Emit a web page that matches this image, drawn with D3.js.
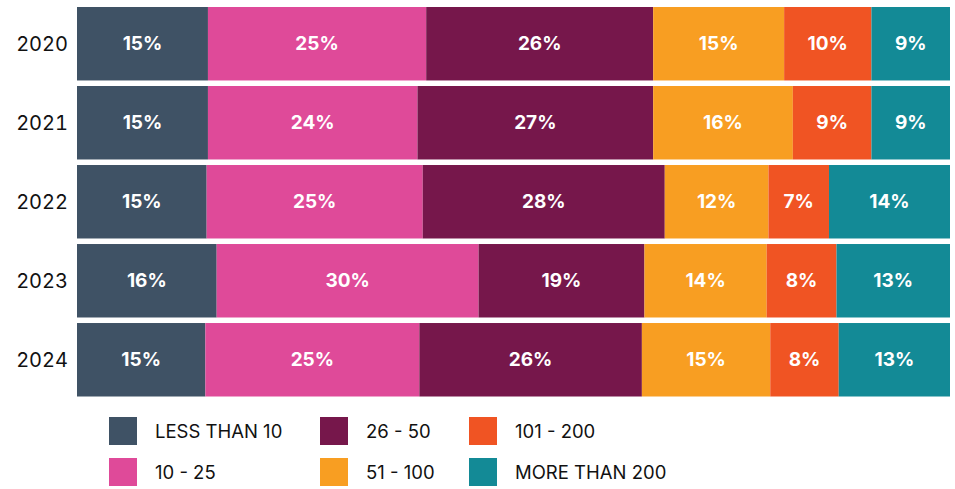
<!DOCTYPE html>
<html>
<head>
<meta charset="utf-8">
<script src="https://cdn.jsdelivr.net/npm/d3@7"></script>
<style>
  html, body { margin: 0; padding: 0; background: #ffffff; }
  svg { display: block; font-family: Inter, "Noto Sans", sans-serif; }
  .year-axis text { font-variant-numeric: tabular-nums; font-feature-settings: "tnum"; }
</style>
</head>
<body>
<svg id="chart" width="955" height="489"></svg>
<script>
// Share of organisations by size band, per year (percent)
const years = ["2020", "2021", "2022", "2023", "2024"];
const bands = ["LESS THAN 10", "10 - 25", "26 - 50", "51 - 100", "101 - 200", "MORE THAN 200"];
const lessThan10 = [15, 15, 15, 16, 15];
const from10to25 = [25, 24, 25, 30, 25];
const from26to50 = [26, 27, 28, 19, 26];
const from51to100 = [15, 16, 12, 14, 15];
const from101to200 = [10, 9, 7, 8, 8];
const moreThan200 = [9, 9, 14, 13, 13];
const bandColors = ["#3f5265", "#df4a99", "#76174b", "#f89e22", "#f05423", "#138a96"];

const seriesValues = [lessThan10, from10to25, from26to50, from51to100, from101to200, moreThan200];

const rows = years.map((y, i) => {
  const row = { year: y };
  bands.forEach((b, j) => { row[b] = seriesValues[j][i]; });
  return row;
});

// Each bar fills the full width: normalise by the row total
const stacked = d3.stack()
  .keys(bands)
  .offset(d3.stackOffsetExpand)(rows);

const svg = d3.select("#chart");

const x = d3.scaleLinear().domain([0, 1]).range([77, 950]);
const y = d3.scaleBand().domain(years).range([7, 396.5]).paddingInner(0.07).paddingOuter(0);
const color = d3.scaleOrdinal().domain(bands).range(bandColors);

const layers = svg.append("g").selectAll("g")
  .data(stacked)
  .join("g")
  .attr("fill", d => color(d.key));

layers.selectAll("rect")
  .data(d => d)
  .join("rect")
  .attr("x", d => x(d[0]))
  .attr("y", d => y(d.data.year))
  .attr("width", d => x(d[1]) - x(d[0]))
  .attr("height", y.bandwidth());

// Percentage labels in the middle of each segment
const labels = svg.append("g").selectAll("g")
  .data(stacked)
  .join("g");

labels.selectAll("text")
  .data(d => d.map(s => ({ s, key: d.key })))
  .join("text")
  .attr("x", d => (x(d.s[0]) + x(d.s[1])) / 2)
  .attr("y", d => y(d.s.data.year) + y.bandwidth() / 2)
  .attr("text-anchor", "middle")
  .attr("dominant-baseline", "central")
  .attr("fill", "#ffffff")
  .attr("font-size", 19)
  .attr("font-weight", 700)
  .text(d => d.s.data[d.key] + "%");

// Year axis on the left
const yAxis = svg.append("g")
  .attr("class", "year-axis")
  .attr("transform", "translate(68,0)")
  .call(d3.axisLeft(y).tickSize(0).tickPadding(0));
yAxis.select(".domain").remove();
yAxis.selectAll("text")
  .attr("font-family", "Inter, 'Noto Sans', sans-serif")
  .attr("font-size", 20)
  .attr("fill", "#111111")
  .attr("dy", "0.35em");

// Legend: three columns, two rows
const legendX = [109, 320, 469];
const legendY = [417, 458];
const legend = svg.append("g").selectAll("g")
  .data(bands)
  .join("g")
  .attr("transform", (d, i) => `translate(${legendX[Math.floor(i / 2)]},${legendY[i % 2]})`);

legend.append("rect")
  .attr("width", 28)
  .attr("height", 28)
  .attr("fill", d => color(d));

legend.append("text")
  .attr("x", 46)
  .attr("y", 14)
  .attr("dominant-baseline", "central")
  .attr("font-size", 18.5)
  .attr("fill", "#111111")
  .text(d => d);
</script>
</body>
</html>
